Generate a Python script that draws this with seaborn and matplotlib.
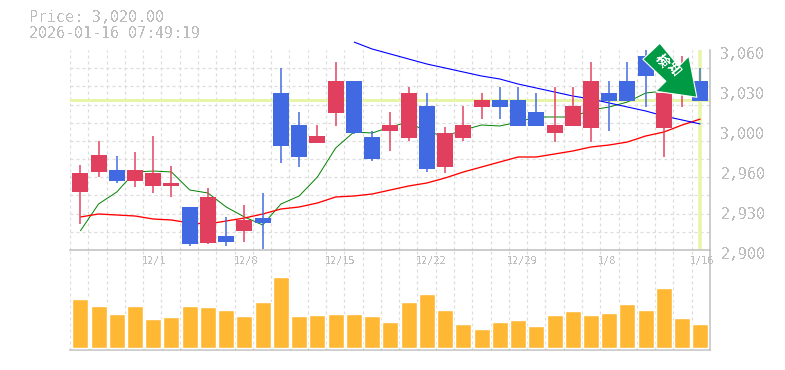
import numpy as np
import pandas as pd
import matplotlib
matplotlib.use("Agg")
import matplotlib.pyplot as plt
import seaborn as sns
from matplotlib.patches import Polygon
from matplotlib.transforms import ScaledTranslation, Affine2D

def P(*ys):
    return [round(2900 + (250 - y) * 0.8, 1) for y in ys]

open_top = P(173,155,170,170,173,183,207,197,236,220,218,93,125,136,81,81,137,125,93,106,133,125,100,100,100,112,125,106,81,93,81,56,93,75,81)
body_bot = P(192,172,181,181,186,186,244,243,242,231,223,146,157,143,113,133,159,131,138,169,167,138,107,107,126,126,133,126,128,101,101,76,128,90,101)
high = P(165,141,156,152,136,166,207,188,217,205,193,68,112,125,62,81,131,112,87,93,127,106,93,87,87,93,87,87,62,81,62,50,93,56,68)
low = P(224,177,183,187,193,197,246,244,246,242,249,163,167,143,126,134,161,151,141,172,173,141,119,119,126,126,142,126,142,131,101,107,157,107,101)
rising = [1,1,0,1,1,1,0,1,0,1,0,0,0,1,1,0,0,1,1,0,1,1,1,0,0,0,1,1,1,0,0,0,1,1,0]
ma_short = P(231,204,192,172,171,172,190,193,207,217,225,204,196,177,148,132,133,127,122,132,136,130,125,126,122,117,117,117,110,107,102,93,91,92,90)
ma_mid = P(217,214,215,216,219,220,223,224,221,218,214,209,207,203,197,196,194,190,186,183,178,172,167,162,157,157,154,151,147,145,142,136,132,125,119)
ma_long = P(42,49,54,59,64,68,72,76,79,84,88,92,96,99,103,107,111,116,120,124)
ma_long_start = 15
volume = [48.7,41.7,33.7,41.7,28.7,30.7,41.7,40.7,37.7,31.7,45.7,70.7,31.7,32.7,33.7,33.7,31.7,25.7,
          45.7,53.7,37.7,23.7,18.7,25.7,27.7,21.7,32.7,36.7,32.7,34.7,43.7,37.7,59.7,29.7,23.7]
date_ticks = [4,9,14,19,24,29,34]
date_labels = ["12/1","12/8","12/15","12/22","12/29","1/8","1/16"]
price_ticks = [2900,2932,2964,2996,3028,3060]
price_labels = ["2,900","2,930","2,960","3,000","3,030","3,060"]
current_price = 3020
header = ["Price: 3,020.00","2026-01-16 07:49:19"]
badge = "検知"

sns.set_theme(style="white")
plt.rcParams['font.family'] = ['DejaVu Sans Mono','Noto Sans CJK JP']
plt.rcParams['text.antialiased'] = False

W, H = 785, 370
PX = 0.72  # one pixel, in points
fig = plt.figure(figsize=(W/100, H/100), dpi=100, facecolor="white")
ax = fig.add_axes([70/W, (H-250)/H, 640/W, 200/H], facecolor="none")
axv = fig.add_axes([70/W, (H-350)/H, 640/W, 100/H], facecolor="none")

n = len(open_top)
idx = np.arange(n)
XLIM = (-0.565, 34.525)
RED, BLUE = "#E0405E", "#4169E1"
GRID = "#DCDCDC"
AXC = "#BEBEBE"
TXT = "#BDBDBD"

df = pd.DataFrame(dict(i=idx, top=open_top, bot=body_bot, high=high, low=low, up=rising,
                       s=ma_short, m=ma_mid))
dl = pd.DataFrame(dict(i=idx[ma_long_start:], l=ma_long))

# volume
sns.barplot(data=pd.DataFrame(dict(i=idx, v=volume)), x="i", y="v", color="#FFB833", saturation=1,
            width=16/18.24, ax=axv, native_scale=True, zorder=3)
axv.set_xlim(*XLIM); axv.set_ylim(-2, 98)

gridx = XLIM[0] + np.arange(36) * (XLIM[1]-XLIM[0]) / 35
for a in (ax, axv):
    a.set_xlim(*XLIM)
    a.set_xlabel(""); a.set_ylabel("")
    a.set_xticks(gridx, minor=True)
    a.grid(which="minor", axis="x", color=GRID, lw=PX*1.2, ls=(0, (2.5, 2.5)), zorder=0)
    a.set_axisbelow(True)
    for s in ("top", "left"):
        a.spines[s].set_visible(False)
    for s in ("bottom", "right"):
        a.spines[s].set_color(AXC); a.spines[s].set_linewidth(1.1)
    a.tick_params(which="both", length=0)
axv.set_xticks([]); axv.set_xticks(gridx, minor=True); axv.set_yticks([])
axv.tick_params(which="both", length=0)

ax.set_ylim(2900, 3060)
ax.set_yticks(2900 + np.arange(12) * 160 / 11, minor=True)
ax.grid(which="minor", axis="y", color=GRID, lw=PX*1.2, ls=(0, (2.5, 2.5)), zorder=0)
ax.yaxis.tick_right()
ax.set_yticks(price_ticks, price_labels)
ax.tick_params(axis="y", which="major", labelsize=10.8, labelcolor=TXT, pad=7.5)
off = ScaledTranslation(0, -3/100, fig.dpi_scale_trans)
for lab in ax.get_yticklabels():
    lab.set_transform(lab.get_transform() + off)
ax.set_xticks(date_ticks, date_labels)
ax.tick_params(axis="x", which="major", labelsize=7.4, labelcolor=TXT, pad=4.4)
offx = ScaledTranslation(-11/100, 0, fig.dpi_scale_trans)
for lab in ax.get_xticklabels():
    lab.set_ha("left")
    lab.set_transform(lab.get_transform() + offx)

# reference price lines
ax.axhline(current_price, color="#E6F5A8", lw=PX*3, zorder=1.5)
ax.axvline(34, color="#E6F5A8", lw=PX*3.5, zorder=1.5, ymin=0.005, ymax=0.995)

# moving averages
sns.lineplot(data=df, x="i", y="s", color="#008000", linewidth=0.7, ax=ax, zorder=2, estimator=None)
sns.lineplot(data=df, x="i", y="m", color="#FF0000", linewidth=0.95, ax=ax, zorder=2, estimator=None)
l3 = sns.lineplot(data=dl, x="i", y="l", color="#0000FF", linewidth=0.8, ax=ax, zorder=2, estimator=None)
l3.get_lines()[-1].set_clip_on(False)
for line in ax.get_lines()[-3:]:
    line.set_linewidth(line.get_linewidth())
    line.set_solid_capstyle("butt")
ax.set_xlabel(""); ax.set_ylabel("")

# candles
for r in df.itertuples():
    c = RED if r.up else BLUE
    ax.vlines(r.i, r.low, r.high, color=c, lw=PX*1.5, zorder=3)
    ax.bar(r.i, r.top - r.bot, bottom=r.bot, width=16/18.24, color=c, lw=0, zorder=3.1)

ax.set_xlim(*XLIM); ax.set_ylim(2900, 3060)

# header
fig.text(29/W, 1-18/H, header[0], fontsize=10.8, color=TXT, va="center", ha="left")
fig.text(29/W, 1-33/H, header[1], fontsize=10.8, color=TXT, va="center", ha="left")

# badge arrow, anchored on the last candle (tip offset in pixels)
tip_x, tip_y = ax.transData.transform((33.75, current_price + 3))
shape = np.array([[1,-1],[-7,40],[-17,30],[-36,53],[-53,37],[-30,15],[-40,5]], float)
tr = Affine2D().translate(tip_x, tip_y)
ax.add_patch(Polygon(shape, closed=True, transform=tr, facecolor="#009944", edgecolor="white",
                     lw=0.8, zorder=6, clip_on=False, joinstyle="round"))
for ch, (dx, dy) in zip(badge, [(-34, 35), (-22, 27)]):
    ax.text(tip_x + dx, tip_y + dy, ch, transform=Affine2D(), rotation=-50, fontsize=9.5, color="white",
            weight="bold", ha="center", va="center", zorder=7, rotation_mode="anchor", clip_on=False)

fig.savefig("out.png", dpi=100, facecolor="white")
